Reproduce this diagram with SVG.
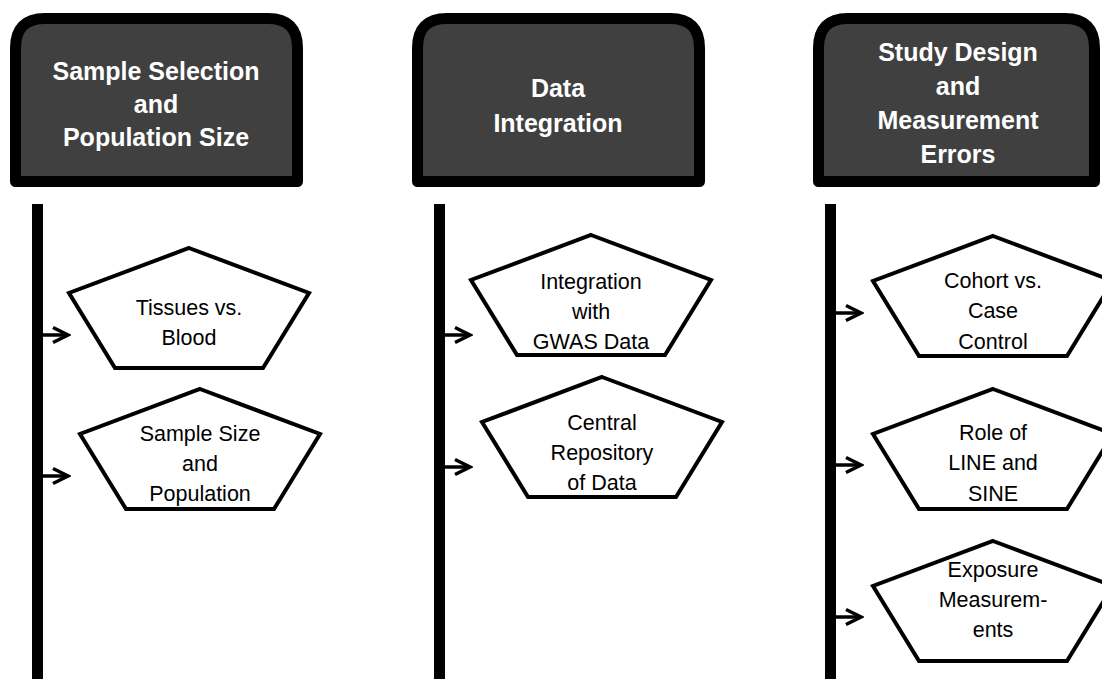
<svg xmlns="http://www.w3.org/2000/svg" width="1102" height="679" viewBox="0 0 1102 679">
<defs>
<style>
.hdr{fill:#404040;stroke:#000;stroke-width:11;stroke-linejoin:round}
.ht{font-family:"Liberation Sans",Arial,sans-serif;font-weight:bold;font-size:25px;fill:#fff;text-anchor:middle}
.pent{fill:#fff;stroke:#000;stroke-width:4;stroke-linejoin:miter}
.pt{font-family:"Liberation Sans",Arial,sans-serif;font-size:21.5px;fill:#000;text-anchor:middle}
.bar{fill:#000}
.arr{stroke:#000;stroke-width:3.5;fill:none;marker-end:url(#ah)}
</style>
<marker id="ah" viewBox="0 0 20 20" refX="17" refY="10" markerWidth="20" markerHeight="20" markerUnits="userSpaceOnUse" orient="auto">
<path d="M2,2.5 L17,10 L2,17.5" fill="none" stroke="#000" stroke-width="3.5" stroke-linejoin="miter"/>
</marker>
<path id="pg" d="M0,0 L120,45 L74,120 L-74,120 L-120,45 Z"/>
</defs>

<g id="header1">
<path class="hdr" d="M15.5,181.5 L15.5,48 Q15.5,18.5 45,18.5 L268,18.5 Q297.5,18.5 297.5,48 L297.5,181.5 Z"/>
<text class="ht" x="156" y="80">Sample Selection</text>
<text class="ht" x="156" y="113">and</text>
<text class="ht" x="156" y="146">Population Size</text>
</g>
<g id="header2">
<path class="hdr" d="M417.5,181.5 L417.5,48 Q417.5,18.5 447,18.5 L670,18.5 Q699.5,18.5 699.5,48 L699.5,181.5 Z"/>
<text class="ht" x="558" y="97">Data</text>
<text class="ht" x="558" y="132">Integration</text>
</g>
<g id="header3">
<path class="hdr" d="M818.5,181.5 L818.5,48 Q818.5,18.5 848,18.5 L1065,18.5 Q1094.5,18.5 1094.5,48 L1094.5,181.5 Z"/>
<text class="ht" x="958" y="61">Study Design</text>
<text class="ht" x="958" y="95">and</text>
<text class="ht" x="958" y="129">Measurement</text>
<text class="ht" x="958" y="163">Errors</text>
</g>

<g id="connectors">
<rect class="bar" x="32" y="204" width="11" height="475"/>
<rect class="bar" x="434" y="204" width="11" height="475"/>
<rect class="bar" x="825" y="204" width="11" height="475"/>
<line class="arr" x1="43" y1="335" x2="68" y2="335"/>
<line class="arr" x1="43" y1="476" x2="68" y2="476"/>
<line class="arr" x1="445" y1="335" x2="470" y2="335"/>
<line class="arr" x1="445" y1="467" x2="470" y2="467"/>
<line class="arr" x1="836" y1="313" x2="861" y2="313"/>
<line class="arr" x1="836" y1="465" x2="861" y2="465"/>
<line class="arr" x1="836" y1="617" x2="861" y2="617"/>
</g>

<g id="tissues">
<use href="#pg" class="pent" x="189" y="248"/>
<text class="pt" x="189" y="315">Tissues vs.</text>
<text class="pt" x="189" y="345">Blood</text>
</g>
<g id="samplesize">
<use href="#pg" class="pent" x="200" y="389"/>
<text class="pt" x="200" y="441">Sample Size</text>
<text class="pt" x="200" y="471">and</text>
<text class="pt" x="200" y="501">Population</text>
</g>
<g id="gwas">
<use href="#pg" class="pent" x="591" y="235"/>
<text class="pt" x="591" y="289">Integration</text>
<text class="pt" x="591" y="319">with</text>
<text class="pt" x="591" y="349">GWAS Data</text>
</g>
<g id="repository">
<use href="#pg" class="pent" x="602" y="377"/>
<text class="pt" x="602" y="430">Central</text>
<text class="pt" x="602" y="460">Repository</text>
<text class="pt" x="602" y="490">of Data</text>
</g>
<g id="cohort">
<use href="#pg" class="pent" x="993" y="236"/>
<text class="pt" x="993" y="288">Cohort vs.</text>
<text class="pt" x="993" y="318">Case</text>
<text class="pt" x="993" y="349">Control</text>
</g>
<g id="linesine">
<use href="#pg" class="pent" x="993" y="389"/>
<text class="pt" x="993" y="440">Role of</text>
<text class="pt" x="993" y="470">LINE and</text>
<text class="pt" x="993" y="501">SINE</text>
</g>
<g id="exposure">
<use href="#pg" class="pent" x="993" y="541"/>
<text class="pt" x="993" y="577">Exposure</text>
<text class="pt" x="993" y="607">Measurem-</text>
<text class="pt" x="993" y="637">ents</text>
</g>
</svg>
